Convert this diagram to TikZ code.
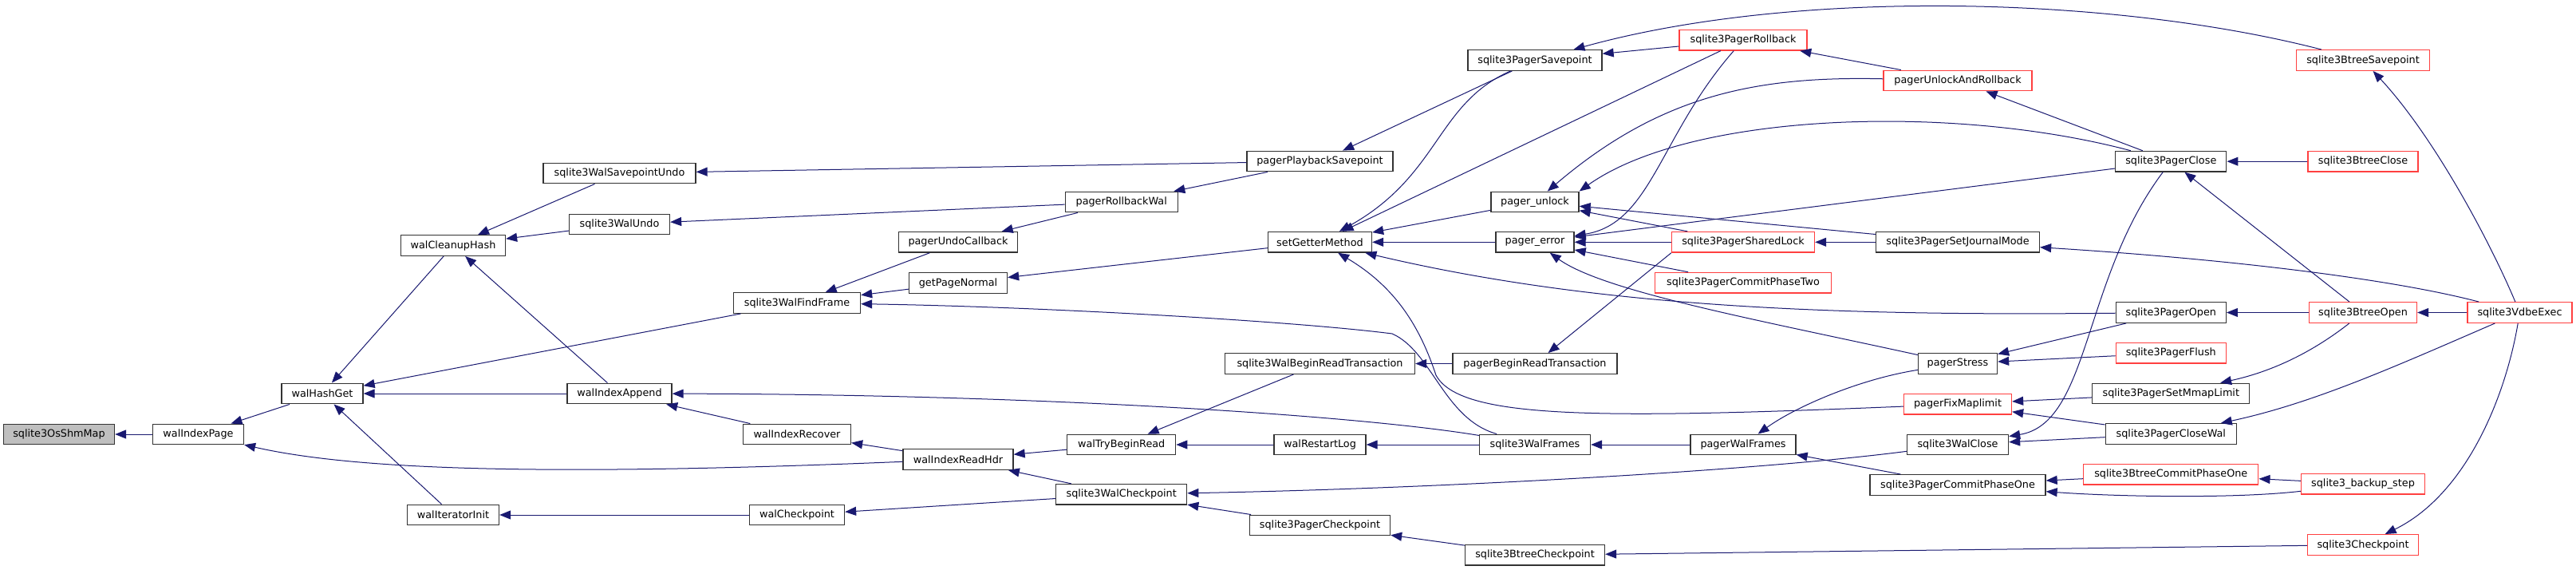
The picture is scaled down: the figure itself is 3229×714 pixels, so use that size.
\documentclass[tikz,border=0pt]{standalone}
\usepackage{fontspec}
\setmainfont{DejaVu Sans}
\usetikzlibrary{arrows.meta}
\definecolor{edgeblue}{RGB}{25,25,112}
\definecolor{lostred}{RGB}{255,64,64}
\definecolor{rootgray}{RGB}{191,191,191}
\begin{document}
\begin{tikzpicture}[x=1pt,y=-1pt,
  fn/.style={draw=black!80,line width=1.3pt,fill=white,minimum height=25.6pt,
    inner sep=0pt,font=\fontsize{12.8}{14}\selectfont},
  lost/.style={fn,draw=lostred},
  root/.style={fn,fill=rootgray},
  call/.style={draw=edgeblue,line width=1pt,-{Triangle[length=14pt,width=11pt]}}]

\useasboundingbox (0,0) rectangle (3229,714);

% shm map and wal index
\node[root,minimum width=139pt] (osshm) at (74,544) {sqlite3OsShmMap};
\node[fn,minimum width=114pt] (idxpage) at (248.5,544) {walIndexPage};
\node[fn,minimum width=102pt] (hashget) at (404,493) {walHashGet};
\node[fn,minimum width=131pt] (cleanup) at (568,307.5) {walCleanupHash};
\node[fn,minimum width=115pt] (iterinit) at (568,645) {walIteratorInit};

\node[fn,minimum width=191pt] (savundo) at (776.5,217) {sqlite3WalSavepointUndo};
\node[fn,minimum width=126pt] (walundo) at (776.5,281) {sqlite3WalUndo};
\node[fn,minimum width=131pt] (idxappend) at (776.5,493) {walIndexAppend};

\node[fn,minimum width=159pt] (findframe) at (999,379.5) {sqlite3WalFindFrame};
\node[fn,minimum width=135pt] (recover) at (999,544) {walIndexRecover};
\node[fn,minimum width=119pt] (walckpt) at (999,645) {walCheckpoint};

\node[fn,minimum width=149pt] (undocb) at (1201,303.3) {pagerUndoCallback};
\node[fn,minimum width=123pt] (getnormal) at (1201,354.5) {getPageNormal};
\node[fn,minimum width=138pt] (readhdr) at (1201,575.5) {walIndexReadHdr};

\node[fn,minimum width=141pt] (rollbackwal) at (1405.7,253) {pagerRollbackWal};
\node[fn,minimum width=136pt] (trybegin) at (1405.7,557) {walTryBeginRead};
\node[fn,minimum width=164pt] (walcheckpoint) at (1405.7,619.3) {sqlite3WalCheckpoint};

% pager level
\node[fn,minimum width=183pt] (playback) at (1654.5,202) {pagerPlaybackSavepoint};
\node[fn,minimum width=130pt] (getter) at (1654.5,303.3) {setGetterMethod};
\node[fn,minimum width=238pt] (walbeginread) at (1654.5,455.5) {sqlite3WalBeginReadTransaction};
\node[fn,minimum width=115pt] (restartlog) at (1654.5,557) {walRestartLog};
\node[fn,minimum width=176pt] (pagerckpt) at (1654.5,658) {sqlite3PagerCheckpoint};

\node[fn,minimum width=168pt] (pagersave) at (1924,75.5) {sqlite3PagerSavepoint};
\node[fn,minimum width=110pt] (unlock) at (1924,253) {pager\_unlock};
\node[fn,minimum width=98pt] (perror) at (1924,303.3) {pager\_error};
\node[fn,minimum width=206pt] (beginread) at (1924,455.5) {pagerBeginReadTransaction};
\node[fn,minimum width=139pt] (walframes) at (1924,557) {sqlite3WalFrames};
\node[fn,minimum width=175pt] (btreeckpt) at (1924,695.3) {sqlite3BtreeCheckpoint};

\node[lost,minimum width=160pt] (rollback) at (2185,50.2) {sqlite3PagerRollback};
\node[lost,minimum width=179pt] (sharedlock) at (2185,303.3) {sqlite3PagerSharedLock};
\node[lost,minimum width=221pt] (phasetwo) at (2185,354.2) {sqlite3PagerCommitPhaseTwo};
\node[fn,minimum width=132pt] (pagerwalfr) at (2185,557) {pagerWalFrames};

\node[lost,minimum width=186pt] (unlockrb) at (2454,101) {pagerUnlockAndRollback};
\node[fn,minimum width=205pt] (journal) at (2454,303.3) {sqlite3PagerSetJournalMode};
\node[fn,minimum width=99pt] (stress) at (2454,455.5) {pagerStress};
\node[lost,minimum width=135pt] (fixmap) at (2454,506.3) {pagerFixMaplimit};
\node[fn,minimum width=127pt] (walclose) at (2454,557) {sqlite3WalClose};
\node[fn,minimum width=220pt] (phaseone) at (2454,607.5) {sqlite3PagerCommitPhaseOne};

% btree and vdbe
\node[fn,minimum width=139pt] (pclose) at (2721.3,202.2) {sqlite3PagerClose};
\node[fn,minimum width=138pt] (popen) at (2721.3,391.5) {sqlite3PagerOpen};
\node[lost,minimum width=138pt] (flush) at (2721.3,442.3) {sqlite3PagerFlush};
\node[fn,minimum width=197pt] (mmap) at (2721.3,493) {sqlite3PagerSetMmapLimit};
\node[fn,minimum width=164pt] (closewal) at (2721.3,543.5) {sqlite3PagerCloseWal};
\node[lost,minimum width=219pt] (btcommit) at (2721.3,594.2) {sqlite3BtreeCommitPhaseOne};

\node[lost,minimum width=167pt] (btsave) at (2962,75.5) {sqlite3BtreeSavepoint};
\node[lost,minimum width=138pt] (btclose) at (2962,202.2) {sqlite3BtreeClose};
\node[lost,minimum width=135pt] (btopen) at (2962,391.5) {sqlite3BtreeOpen};
\node[lost,minimum width=155pt] (backup) at (2962,606.3) {sqlite3\_backup\_step};
\node[lost,minimum width=139pt] (checkpoint) at (2962,682.5) {sqlite3Checkpoint};

\node[lost,minimum width=131pt] (vdbe) at (3158.5,391.5) {sqlite3VdbeExec};

% straight calls
\foreach \a/\b in {idxpage/osshm, hashget/idxpage, cleanup/hashget, findframe/hashget,
  idxappend/hashget, iterinit/hashget, savundo/cleanup, walundo/cleanup,
  idxappend/cleanup, walckpt/iterinit, recover/idxappend, readhdr/recover,
  walcheckpoint/walckpt, playback/savundo, rollbackwal/walundo,
  getnormal/findframe, undocb/findframe, rollbackwal/undocb, playback/rollbackwal,
  getter/getnormal, trybegin/readhdr, walcheckpoint/readhdr,
  walbeginread/trybegin, restartlog/trybegin, pagerckpt/walcheckpoint,
  pagersave/playback, rollback/getter, unlock/getter, perror/getter,
  beginread/walbeginread, walframes/restartlog, btreeckpt/pagerckpt,
  rollback/pagersave, journal/unlock, sharedlock/unlock,
  pclose/perror, sharedlock/perror, phasetwo/perror,
  pagerwalfr/walframes, checkpoint/btreeckpt,
  unlockrb/rollback, journal/sharedlock, phaseone/pagerwalfr,
  pclose/unlockrb, popen/stress, flush/stress, mmap/fixmap, closewal/fixmap,
  closewal/walclose, btcommit/phaseone, btclose/pclose, btopen/pclose,
  btopen/popen, backup/btcommit, vdbe/btopen}
{
    \draw[call] (\a) -- (\b);
}

% curved calls
\draw[call] (sharedlock.south west) -- (beginread);
\draw[call] (stress) .. controls (2200,400) and (2010,365) .. (perror);
\draw[call] (readhdr) .. controls (700,596) and (450,590) .. (idxpage);
\draw[call] (walframes) .. controls (1700,520) and (1300,494) .. (idxappend);
\draw[call] (walframes) .. controls (1810,525) and (1795,440) .. (1745,418)
  .. controls (1620,402) and (1300,384) .. (findframe);
\draw[call] (fixmap) .. controls (2000,525) and (1830,525) .. (1800,470)
  .. controls (1780,410) and (1750,360) .. (getter);
\draw[call] (pagersave) .. controls (1800,130) and (1805,220) .. (getter);
\draw[call] (popen) .. controls (2300,396) and (2000,385) .. (getter);
\draw[call] (btsave) .. controls (2650,-5) and (2250,-15) .. (pagersave);
\draw[call] (unlockrb) .. controls (2200,95) and (2080,120) .. (unlock);
\draw[call] (pclose) .. controls (2450,130) and (2120,140) .. (unlock.north east);
\draw[call] (rollback) .. controls (2080,170) and (2070,280) .. (perror);
\draw[call] (stress) .. controls (2330,475) and (2250,510) .. (pagerwalfr);
\draw[call] (walclose) .. controls (2200,590) and (1800,612) .. (walcheckpoint);
\draw[call] (pclose) .. controls (2610,350) and (2620,530) .. (walclose);
\draw[call] (backup) .. controls (2800,625) and (2650,622) .. (phaseone);
\draw[call] (btopen) .. controls (2900,440) and (2850,465) .. (mmap);
\draw[call] (vdbe) .. controls (3000,350) and (2800,325) .. (journal);
\draw[call] (vdbe) .. controls (3120,300) and (3050,170) .. (btsave);
\draw[call] (vdbe) .. controls (3140,500) and (3090,620) .. (checkpoint);
\draw[call] (vdbe) .. controls (3000,460) and (2900,505) .. (closewal);

\end{tikzpicture}
\end{document}
